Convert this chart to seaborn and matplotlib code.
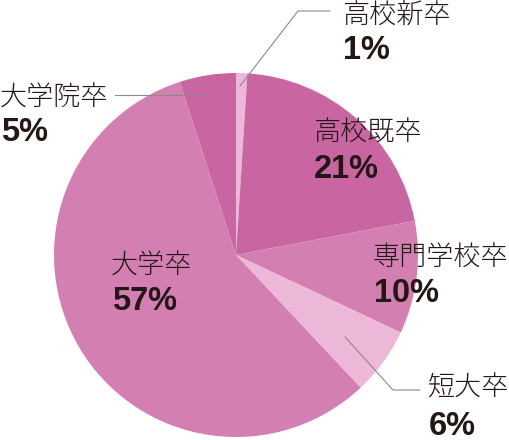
import matplotlib
matplotlib.use("Agg")
import matplotlib.pyplot as plt
import seaborn as sns

categories = ["高校新卒", "高校既卒", "専門学校卒", "短大卒", "大学卒", "大学院卒"]
values = [1, 21, 10, 6, 57, 5]
pct_labels = ["1%", "21%", "10%", "6%", "57%", "5%"]
colors = ["#edb7d7", "#c966a1", "#d47fb2", "#edb7d7", "#d47fb2", "#c966a1"]

sns.set_theme(style="white")
plt.rcParams['font.family'] = ['Noto Sans CJK JP', 'DejaVu Sans']

W, H = 510, 440
fig = plt.figure(figsize=(5.1, 4.4), dpi=100)
ax = fig.add_axes([0, 0, 1, 1])

def Y(y):
    return H - y

cx, cy, r = 236, 255, 182
ax.pie(values, colors=colors, startangle=90, counterclock=False,
       center=(cx, Y(cy)), radius=r, frame=True,
       wedgeprops=dict(linewidth=0))
ax.set_xlim(0, W)
ax.set_ylim(0, H)
ax.set_aspect("equal")
ax.axis("off")

txt = "#231815"
line_c = "#8a8a8a"
# label positions (left x, label center y, pct center y) in px
pos = {
    "高校新卒": (342, 16, 50),
    "高校既卒": (313, 133, 169),
    "専門学校卒": (373, 257, 294),
    "短大卒": (428, 388, 426),
    "大学卒": (111, 265, 301),
    "大学院卒": (0, 97, 132),
}
for cat, p in zip(categories, pct_labels):
    x, yl, yp = pos[cat]
    ax.text(x, Y(yl), cat, fontsize=19.5, color=txt, ha="left", va="center",
            fontweight="light")
    ax.text(x + 1, Y(yp), p, fontsize=23.5, color=txt, ha="left", va="center",
            fontweight="bold", family=["Liberation Sans", "DejaVu Sans"])

# leader lines
ax.plot([240, 298, 330], [Y(86), Y(11), Y(11)], color=line_c, lw=0.8)
ax.plot([203, 115], [Y(95), Y(95)], color=line_c, lw=0.8)
ax.plot([345, 393, 420], [Y(337), Y(390), Y(390)], color=line_c, lw=0.8)

fig.savefig("out.png", dpi=100)
